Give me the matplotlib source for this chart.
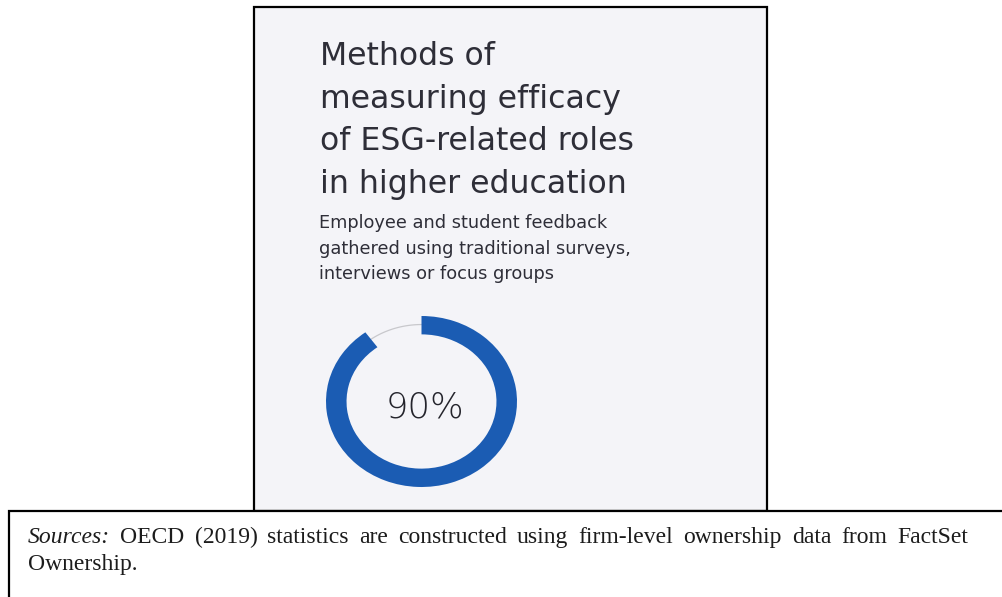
import matplotlib
matplotlib.use("Agg")
import matplotlib.pyplot as plt
import numpy as np
from matplotlib.patches import Rectangle

# data
values = [90, 10]  # percent of respondents, remainder
title_lines = ["Methods of", "measuring efficacy", "of ESG-related roles", "in higher education"]
subtitle_lines = ["Employee and student feedback", "gathered using traditional surveys,", "interviews or focus groups"]
source_lead = "Sources:"
source_lines = ["OECD (2019) statistics are constructed using firm-level ownership data from FactSet",
                "Ownership."]

BLUE = "#1b5cb3"
PANEL = "#f4f4f8"
INK = "#2e2e38"

W, H = 1002, 597
fig = plt.figure(figsize=(W / 100, H / 100), dpi=100)
fig.patch.set_facecolor("white")

# full-figure axes in pixel units for the panels and text
bg = fig.add_axes([0, 0, 1, 1])
bg.set_xlim(0, W)
bg.set_ylim(H, 0)
bg.axis("off")

bg.add_patch(Rectangle((254, 7), 513, 504, facecolor=PANEL, edgecolor="black", lw=1.6, zorder=1))
bg.add_patch(Rectangle((9, 511), 1010, 120, facecolor="white", edgecolor="black", lw=1.6, zorder=1, clip_on=True))

for i, line in enumerate(title_lines):
    bg.text(320, 65 + i * 42.7, line, fontsize=22.7, color=INK, family="DejaVu Sans",
            va="baseline", ha="left", zorder=3)

for i, line in enumerate(subtitle_lines):
    bg.text(319, 228 + i * 25.5, line, fontsize=12.8, color=INK, family="DejaVu Sans",
            va="baseline", ha="left", zorder=3)

# donut
dx, dy, dw, dh = 326, 316, 191, 171
ax = fig.add_axes([dx / W, 1 - (dy + dh) / H, dw / W, dh / H])
ax.pie(values, colors=[BLUE, "none"], startangle=90, counterclock=False,
       wedgeprops=dict(width=0.215, linewidth=0))
ax.set_aspect("auto")
ax.set_xlim(-1, 1)
ax.set_ylim(-1, 1)
ax.axis("off")
# thin grey track over the unfilled part
a0 = np.pi / 2
a1 = a0 + 2 * np.pi * values[1] / sum(values)
t = np.linspace(a0, a1, 60)
ax.plot(0.9 * np.cos(t), 0.9 * np.sin(t), color="#c8c8cc", lw=0.9, zorder=0)

bg.text(424.5, 417, f"{values[0]}%", fontsize=25.5, color="#24242c", family="DejaVu Sans",
        fontweight="light", ha="center", va="baseline", zorder=3)

# sources note, first line justified
renderer = fig.canvas.get_renderer()
serif = "Liberation Serif"
fs = 17
ink2 = "#1c1c1c"
x0, x1 = 28, 968
words = [(source_lead, "italic")] + [(w, "normal") for w in source_lines[0].split()]
texts = []
widths = []
for w, style in words:
    t_ = bg.text(0, 543, w, fontsize=fs, family=serif, style=style, color=ink2,
                 va="baseline", ha="left", zorder=3)
    texts.append(t_)
    widths.append(t_.get_window_extent(renderer).width)
gap = (x1 - x0 - sum(widths)) / (len(words) - 1)
x = x0
for t_, wd in zip(texts, widths):
    t_.set_x(x)
    x += wd + gap
bg.text(x0, 570, source_lines[1], fontsize=fs, family=serif, color=ink2,
        va="baseline", ha="left", zorder=3)

fig.savefig("out.png", dpi=100)
